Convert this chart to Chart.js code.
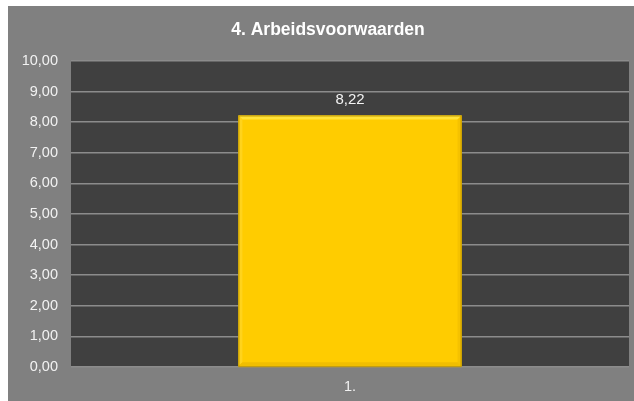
<!DOCTYPE html>
<html>
<head>
<meta charset="utf-8">
<script src="https://cdn.jsdelivr.net/npm/chart.js@4/dist/chart.umd.min.js"></script>
<style>
html,body{margin:0;padding:0;background:#fff;}
#wrap{width:634px;height:401px;position:relative;}
</style>
</head>
<body>
<div id="wrap"><canvas id="c" width="634" height="401"></canvas></div>
<script>
const chartTitle = '4. Arbeidsvoorwaarden';
const categories = ['1.'];
const values = [8.22];
const yTicks = [0,1,2,3,4,5,6,7,8,9,10];

const fmt = v => v.toFixed(2).replace('.', ',');
const FONT = '"Liberation Sans", Arial, sans-serif';

const bgPlugin = {
  id: 'bg',
  beforeDraw(chart) {
    const ctx = chart.ctx, a = chart.chartArea;
    ctx.save();
    ctx.fillStyle = '#ffffff';
    ctx.fillRect(0, 0, chart.width, chart.height);
    ctx.fillStyle = '#808080';
    ctx.fillRect(8, 6, chart.width - 8, chart.height - 6);
    ctx.fillStyle = '#404040';
    ctx.fillRect(a.left, a.top, a.right - a.left, a.bottom - a.top);
    ctx.font = 'bold 17.5px ' + FONT;
    ctx.fillStyle = '#ffffff';
    ctx.textAlign = 'center';
    ctx.textBaseline = 'middle';
    ctx.fillText(chartTitle, 328, 30);
    ctx.restore();
  }
};

const barDeco = {
  id: 'barDeco',
  afterDatasetsDraw(chart) {
    const ctx = chart.ctx;
    const meta = chart.getDatasetMeta(0);
    meta.data.forEach((bar, i) => {
      const l = bar.x - bar.width / 2, r = bar.x + bar.width / 2;
      const t = bar.y, b = bar.base;
      const e = 4;
      ctx.save();
      ctx.fillStyle = '#ffe23a';
      ctx.beginPath();
      ctx.moveTo(l, t); ctx.lineTo(r, t); ctx.lineTo(r - e, t + e); ctx.lineTo(l + e, t + e); ctx.closePath(); ctx.fill();
      ctx.fillStyle = '#ffd31c';
      ctx.beginPath();
      ctx.moveTo(l, t); ctx.lineTo(l + e, t + e); ctx.lineTo(l + e, b - e); ctx.lineTo(l, b); ctx.closePath(); ctx.fill();
      ctx.fillStyle = '#f5c200';
      ctx.beginPath();
      ctx.moveTo(r, t); ctx.lineTo(r - e, t + e); ctx.lineTo(r - e, b - e); ctx.lineTo(r, b); ctx.closePath(); ctx.fill();
      ctx.fillStyle = '#f0be00';
      ctx.beginPath();
      ctx.moveTo(l, b); ctx.lineTo(r, b); ctx.lineTo(r - e, b - e); ctx.lineTo(l + e, b - e); ctx.closePath(); ctx.fill();
      ctx.strokeStyle = '#c29a00';
      ctx.lineWidth = 1;
      ctx.strokeRect(l + 0.5, t + 0.5, r - l - 1, b - t);
      ctx.font = '15px ' + FONT;
      ctx.fillStyle = '#f2f2f2';
      ctx.textAlign = 'center';
      ctx.textBaseline = 'middle';
      ctx.fillText(fmt(values[i]), bar.x, t - 16);
      ctx.restore();
    });
  }
};

new Chart(document.getElementById('c'), {
  type: 'bar',
  data: {
    labels: categories,
    datasets: [{
      data: values,
      backgroundColor: '#ffcc00',
      borderWidth: 0,
      categoryPercentage: 0.4,
      barPercentage: 1.0
    }]
  },
  options: {
    responsive: false,
    animation: false,
    devicePixelRatio: 1,
    layout: { padding: { left: 8, right: 5, top: 61, bottom: 8 } },
    plugins: { legend: { display: false }, title: { display: false }, tooltip: { enabled: false } },
    scales: {
      x: {
        grid: { display: false, drawTicks: false },
        border: { display: false },
        ticks: { color: '#f2f2f2', font: { family: FONT, size: 14.5 }, padding: 11, maxRotation: 0, minRotation: 0, autoSkip: false },
        afterFit(s) { s.height = 26; }
      },
      y: {
        min: 0, max: 10,
        afterBuildTicks(s) { s.ticks = yTicks.map(v => ({ value: v })); },
        grid: { color: '#8c8c8c', lineWidth: 1.5, drawTicks: false },
        border: { display: false },
        ticks: { color: '#f2f2f2', font: { family: FONT, size: 14.5 }, padding: 13, callback: v => fmt(v) },
        afterFit(s) { s.width = 63; }
      }
    }
  },
  plugins: [bgPlugin, barDeco]
});
</script>
</body>
</html>
